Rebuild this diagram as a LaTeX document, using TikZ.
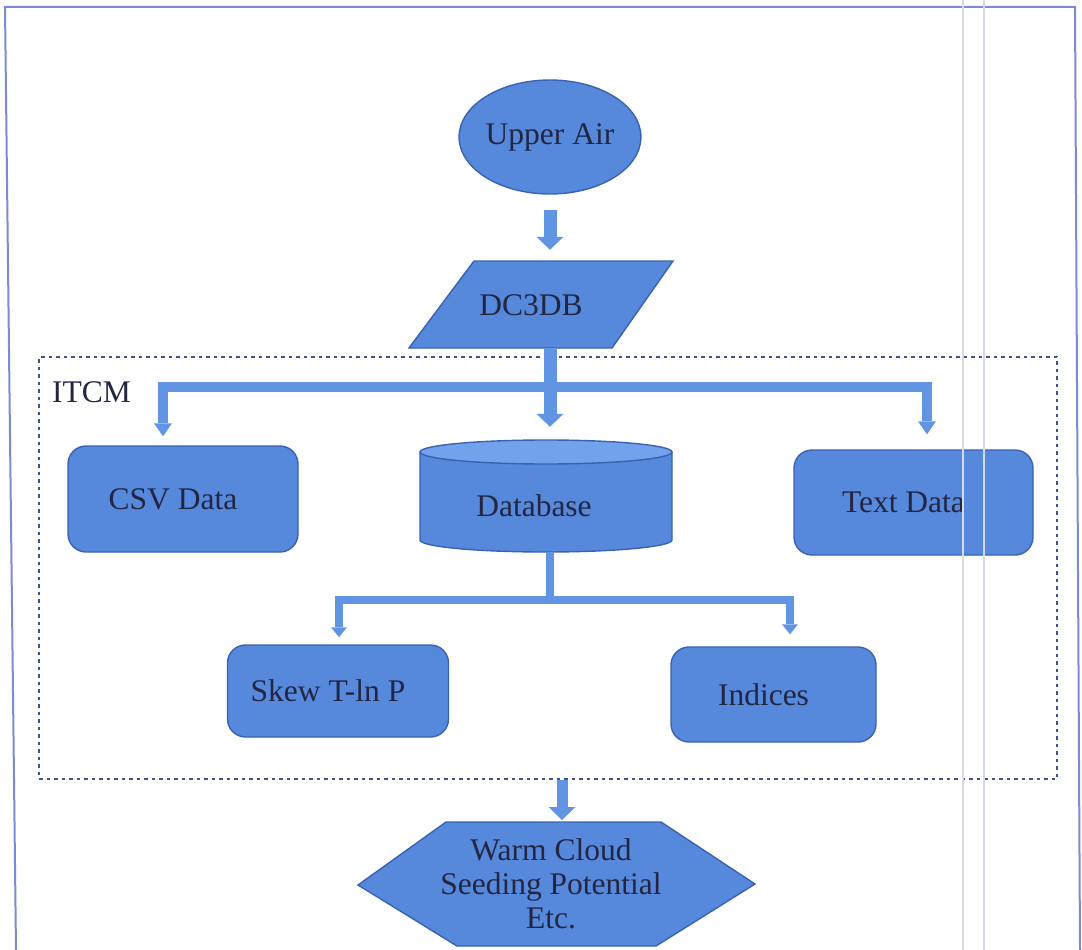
\documentclass[tikz,border=0pt]{standalone}
\usepackage{fontspec}
\setmainfont{Liberation Serif}
\usetikzlibrary{arrows.meta,calc,shapes.geometric}
\definecolor{boxfill}{RGB}{86,136,220}
\definecolor{boxline}{RGB}{58,98,178}
\definecolor{dbtop}{RGB}{114,162,236}
\definecolor{link}{RGB}{98,148,228}
\definecolor{ink}{RGB}{34,38,66}
\definecolor{frameline}{RGB}{124,140,210}
\definecolor{groupline}{RGB}{62,82,150}
\definecolor{scanline}{RGB}{214,218,228}
\begin{document}
\begin{tikzpicture}[x=1pt, y=-1pt,
  every node/.style={font=\fontsize{31.5}{34}\selectfont, text=ink, inner sep=0pt},
  block/.style={draw=boxline, line width=1.4pt, fill=boxfill},
  roundbox/.style={block, rounded corners=18pt, execute at end node={\hspace*{20pt}}},
  outline/.style={draw=boxline, line width=1.4pt},
  bigarrow/.style={draw=link, line width=13pt, -{Triangle[width=27pt, length=13pt, line width=0pt]}},
  branch/.style={draw=link, line width=10pt, line join=miter},
  twig/.style={draw=link, line width=8pt, line join=miter},
  group/.style={draw=groupline, line width=2.4pt, dash pattern=on 3.5pt off 4pt},
]
\useasboundingbox (0,0) rectangle (1082,950);

% page frame
\draw[frameline, line width=2pt] (16,950) -- (5,7) -- (1075,7) -- (1080,950);

% ITCM group
\node[group, minimum width=1018pt, minimum height=422pt] (itcmbox) at (548,568) {};
\node[anchor=west] (itcm) at (52,392) {ITCM};

% source
\node[block, ellipse, minimum width=180pt, minimum height=114pt] (upper) at (550,137) {Upper Air};

% DC3DB parallelogram
\path[fill=boxfill, outline] (474,261) -- (673,261) -- (612,348) -- (409,348) -- cycle;
\node[minimum width=264pt, minimum height=87pt] (dc) at (541,304.5) {};
\node (dctext) at (531,305) {DC3DB};

% database cylinder
\path[fill=boxfill] (420,452) -- (420,540)
  arc[start angle=180, end angle=360, x radius=126pt, y radius=12pt] -- (672,452) -- cycle;
\draw[outline] (420,452) -- (420,540)
  arc[start angle=180, end angle=360, x radius=126pt, y radius=12pt] -- (672,452);
\draw[outline, fill=dbtop] (546,452) ellipse [x radius=126pt, y radius=12pt];
\node[minimum width=252pt, minimum height=112pt] (db) at (546,496) {};
\node (dbtext) at (534,506) {Database};

% data products
\node[roundbox, minimum width=230pt, minimum height=106pt] (csv) at (183,499) {CSV Data};
\node[roundbox, minimum width=239pt, minimum height=105pt] (txt) at (913.5,502.5) {Text Data};
\node[roundbox, minimum width=221pt, minimum height=92pt] (skew) at (338,691) {Skew T-ln P};
\node[roundbox, minimum width=205pt, minimum height=95pt] (ind) at (773.5,694.5) {Indices};

% result hexagon
\path[fill=boxfill, outline] (446,822) -- (661,822) -- (755,884) -- (656,946) -- (457,946) -- (358,885) -- cycle;
\node[minimum width=397pt, minimum height=124pt] (hex) at (556.5,884) {};
\node[align=center] (hextext) at (551,884) {Warm Cloud\\Seeding Potential\\Etc.};

% junction points
\coordinate (jl) at (163,387);
\coordinate (jr) at (927,387);
\coordinate (sl) at (339,600);
\coordinate (sr) at (790,600);
\coordinate (hexin) at (562,822);

% connectors
\draw[bigarrow, shorten <=15pt, shorten >=11pt] (upper.south) -- (upper.south |- dc.north);
\draw[branch, {Triangle[width=18pt, length=13pt, line width=0pt]}-{Triangle[width=18pt, length=13pt, line width=0pt]},
      shorten <=9pt, shorten >=15pt]
  (jl |- csv.north) -- (jl) -- (jr) -- (jr |- txt.north);
\draw[bigarrow, shorten >=13pt] (upper.south |- dc.south) -- (upper.south |- db.north);
\draw[twig] (upper.south |- db.south) -- (upper.south |- sl);
\draw[twig, {Triangle[width=16pt, length=10pt, line width=0pt]}-{Triangle[width=16pt, length=10pt, line width=0pt]},
      shorten <=7pt, shorten >=12pt]
  (sl |- skew.north) -- (sl) -- (sr) -- (sr |- ind.north);
\draw[bigarrow, line width=11pt, shorten >=2pt] (hexin |- itcmbox.south) -- (hexin);

% faint vertical streaks
\draw[scanline, line width=2pt] (963,0) -- (963,950);
\draw[scanline, line width=2pt] (984,0) -- (984,950);
\end{tikzpicture}
\end{document}
